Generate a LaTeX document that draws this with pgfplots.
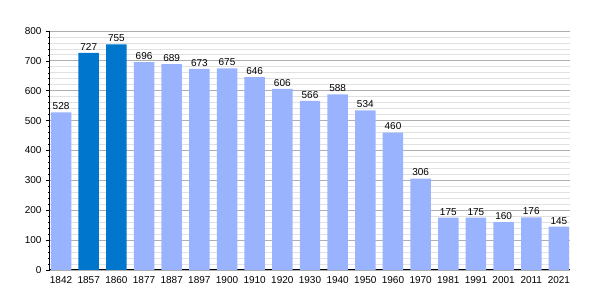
\documentclass[border=0pt]{standalone}
\usepackage{pgfplots}
\pgfplotsset{compat=1.18}
\usepackage{fontspec}
\setmainfont{Liberation Sans}
\definecolor{lightbar}{RGB}{153,179,255}
\definecolor{darkbar}{RGB}{0,119,204}
\definecolor{majgrid}{RGB}{175,175,175}
\definecolor{mingrid}{RGB}{225,225,225}
\begin{document}
\begin{tikzpicture}
\begin{axis}[
  scale only axis,
  width=520pt, height=239pt,
  xmin=-0.4, xmax=18.4,
  ymin=0, ymax=800,
  axis x line*=bottom,
  axis y line*=left,
  xtick={0,...,18},
  xticklabels={1842,1857,1860,1877,1887,1897,1900,1910,1920,1930,1940,1950,1960,1970,1981,1991,2001,2011,2021},
  x tick style={draw=none},
  ytick={0,100,...,800},
  minor y tick num=4,
  tick align=outside,
  major tick length=4pt,
  minor tick length=2pt,
  ymajorgrids, yminorgrids,
  major grid style={majgrid, line width=0.8pt},
  minor grid style={mingrid, line width=0.8pt},
  y tick style={black, line width=0.6pt},
  axis line style={black, line width=1pt},
  ticklabel style={font=\fontsize{10}{11}\selectfont},
  /pgf/number format/assume math mode=true,
  xticklabel style={yshift=1pt},
  yticklabel style={xshift=-1pt},
  ybar, bar width=0.74,
  bar shift=0pt,
  nodes near coords,
  every node near coord/.append style={font=\fontsize{10}{11}\selectfont, black, yshift=-1pt},
  clip=false,
]
\addplot[fill=lightbar, draw=none] coordinates {
(0,528) (3,696) (4,689) (5,673) (6,675) (7,646) (8,606) (9,566) (10,588) (11,534) (12,460) (13,306) (14,175) (15,175) (16,160) (17,176) (18,145)};
\addplot[fill=darkbar, draw=none] coordinates {(1,727) (2,755)};
\end{axis}
\pgfresetboundingbox
\path ([shift={(-50pt,-30pt)}]current axis.south west) rectangle ([shift={(30pt,31pt)}]current axis.north east);
\end{tikzpicture}
\end{document}
